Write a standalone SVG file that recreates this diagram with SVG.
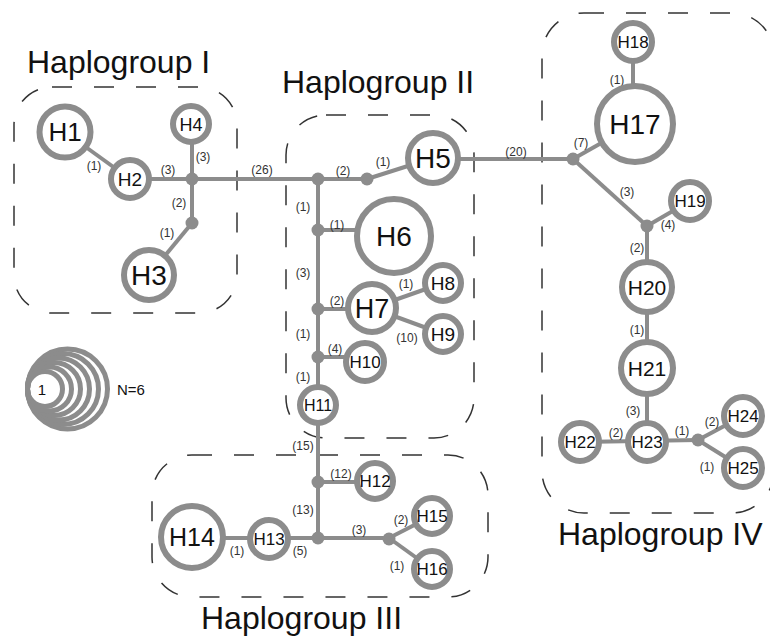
<svg xmlns="http://www.w3.org/2000/svg" width="770" height="640" viewBox="0 0 770 640">
  <style>
    .grp { fill: none; stroke: #333; stroke-width: 1.5; stroke-dasharray: 20 22; }
    .edge { stroke: #8c8c8c; stroke-width: 4; fill: none; }
    .node circle { fill: #fff; stroke: #8c8c8c; stroke-width: 6; }
    .node text { font-family: "Liberation Sans", Arial, sans-serif; fill: #111; text-anchor: middle; }
    .dot { fill: #8c8c8c; }
    .lbl { font-family: "Liberation Sans", Arial, sans-serif; font-size: 12px; fill: #333; text-anchor: middle; }
    .title { font-family: "Liberation Sans", Arial, sans-serif; font-size: 32px; fill: #111; }
    .legend circle { fill: none; stroke: #8c8c8c; stroke-width: 5; }
  </style>
  <rect width="770" height="640" fill="#fff"/>

  <!-- haplogroup outlines -->
  <g id="groups">
    <rect class="grp" x="14" y="87" width="223" height="226" rx="38"/>
    <rect class="grp" x="286" y="115" width="188" height="323" rx="40"/>
    <rect class="grp" x="152" y="455" width="336" height="142" rx="40"/>
    <rect class="grp" x="542" y="13" width="232" height="500" rx="42"/>
    <text class="title" x="27" y="73">Haplogroup I</text>
    <text class="title" x="282" y="93">Haplogroup II</text>
    <text class="title" x="201" y="629">Haplogroup III</text>
    <text class="title" x="558" y="545">Haplogroup IV</text>
  </g>

  <!-- connectors -->
  <g id="connectors">
    <line class="edge" x1="65" y1="132" x2="130" y2="179"/>
    <line class="edge" x1="130" y1="179" x2="192" y2="179"/>
    <line class="edge" x1="192" y1="124" x2="192" y2="223"/>
    <line class="edge" x1="192" y1="223" x2="149" y2="275"/>
    <line class="edge" x1="192" y1="179" x2="367" y2="179"/>
    <line class="edge" x1="367" y1="179" x2="433" y2="158"/>
    <line class="edge" x1="318" y1="179" x2="318" y2="538"/>
    <line class="edge" x1="318" y1="230" x2="360" y2="230"/>
    <line class="edge" x1="318" y1="309" x2="372" y2="309"/>
    <line class="edge" x1="372" y1="308" x2="443" y2="283"/>
    <line class="edge" x1="372" y1="308" x2="443" y2="334"/>
    <line class="edge" x1="318" y1="357" x2="365" y2="357"/>
    <line class="edge" x1="318" y1="482" x2="375" y2="482"/>
    <line class="edge" x1="192" y1="538" x2="389" y2="538"/>
    <line class="edge" x1="389" y1="538" x2="432" y2="516"/>
    <line class="edge" x1="389" y1="538" x2="432" y2="569"/>
    <line class="edge" x1="433" y1="159" x2="573" y2="159"/>
    <line class="edge" x1="573" y1="159" x2="635" y2="124"/>
    <line class="edge" x1="633" y1="42" x2="633" y2="90"/>
    <line class="edge" x1="573" y1="159" x2="647" y2="226"/>
    <line class="edge" x1="647" y1="226" x2="690" y2="201"/>
    <line class="edge" x1="647" y1="226" x2="647" y2="442"/>
    <line class="edge" x1="580" y1="442" x2="698" y2="440"/>
    <line class="edge" x1="698" y1="440" x2="743" y2="416"/>
    <line class="edge" x1="698" y1="440" x2="743" y2="468"/>

    <circle class="dot" cx="192" cy="179" r="6.5"/>
    <circle class="dot" cx="192" cy="223" r="6.5"/>
    <circle class="dot" cx="318" cy="179" r="6.5"/>
    <circle class="dot" cx="367" cy="179" r="6.5"/>
    <circle class="dot" cx="318" cy="230" r="6.5"/>
    <circle class="dot" cx="318" cy="309" r="6.5"/>
    <circle class="dot" cx="318" cy="357" r="6.5"/>
    <circle class="dot" cx="318" cy="482" r="6.5"/>
    <circle class="dot" cx="318" cy="538" r="6.5"/>
    <circle class="dot" cx="389" cy="539" r="6.5"/>
    <circle class="dot" cx="573" cy="159" r="6.5"/>
    <circle class="dot" cx="647" cy="226" r="6.5"/>
    <circle class="dot" cx="698" cy="440" r="6.5"/>

    <!-- mutation counts -->
    <text class="lbl" x="94" y="170">(1)</text>
    <text class="lbl" x="168" y="174">(3)</text>
    <text class="lbl" x="203" y="161">(3)</text>
    <text class="lbl" x="179" y="207">(2)</text>
    <text class="lbl" x="167" y="237">(1)</text>
    <text class="lbl" x="262" y="174">(26)</text>
    <text class="lbl" x="343" y="175">(2)</text>
    <text class="lbl" x="383" y="166">(1)</text>
    <text class="lbl" x="303" y="211">(1)</text>
    <text class="lbl" x="337" y="229">(1)</text>
    <text class="lbl" x="303" y="277">(3)</text>
    <text class="lbl" x="337" y="305">(2)</text>
    <text class="lbl" x="406" y="288">(1)</text>
    <text class="lbl" x="407" y="342">(10)</text>
    <text class="lbl" x="303" y="338">(1)</text>
    <text class="lbl" x="335" y="353">(4)</text>
    <text class="lbl" x="303" y="381">(1)</text>
    <text class="lbl" x="303" y="450">(15)</text>
    <text class="lbl" x="341" y="478">(12)</text>
    <text class="lbl" x="303" y="514">(13)</text>
    <text class="lbl" x="300" y="555">(5)</text>
    <text class="lbl" x="237" y="555">(1)</text>
    <text class="lbl" x="359" y="534">(3)</text>
    <text class="lbl" x="401" y="524">(2)</text>
    <text class="lbl" x="397" y="570">(1)</text>
    <text class="lbl" x="516" y="156">(20)</text>
    <text class="lbl" x="581" y="147">(7)</text>
    <text class="lbl" x="617" y="84">(1)</text>
    <text class="lbl" x="627" y="196">(3)</text>
    <text class="lbl" x="668" y="229">(4)</text>
    <text class="lbl" x="637" y="252">(2)</text>
    <text class="lbl" x="637" y="334">(1)</text>
    <text class="lbl" x="633" y="415">(3)</text>
    <text class="lbl" x="616" y="437">(2)</text>
    <text class="lbl" x="682" y="435">(1)</text>
    <text class="lbl" x="712" y="426">(2)</text>
    <text class="lbl" x="707" y="471">(1)</text>
  </g>

  <!-- haplotypes -->
  <g id="H1" class="node"><circle cx="65" cy="132" r="25.5"/><text x="65" y="141" font-size="26">H1</text></g>
  <g id="H2" class="node"><circle cx="130" cy="179" r="19"/><text x="130" y="186" font-size="19">H2</text></g>
  <g id="H3" class="node"><circle cx="149" cy="275" r="25"/><text x="149" y="285" font-size="28">H3</text></g>
  <g id="H4" class="node"><circle cx="191" cy="124" r="18"/><text x="191" y="130.5" font-size="18">H4</text></g>
  <g id="H5" class="node"><circle cx="433" cy="158" r="25"/><text x="433" y="168" font-size="28">H5</text></g>
  <g id="H6" class="node"><circle cx="394" cy="236" r="37"/><text x="394" y="246" font-size="28">H6</text></g>
  <g id="H7" class="node"><circle cx="372" cy="308" r="24"/><text x="372" y="317.5" font-size="27">H7</text></g>
  <g id="H8" class="node"><circle cx="443" cy="283" r="18"/><text x="443" y="290" font-size="19">H8</text></g>
  <g id="H9" class="node"><circle cx="443" cy="334" r="18"/><text x="443" y="341" font-size="19">H9</text></g>
  <g id="H10" class="node"><circle cx="365" cy="362" r="19"/><text x="365" y="368" font-size="17">H10</text></g>
  <g id="H11" class="node"><circle cx="318" cy="405" r="18"/><text x="318" y="411" font-size="16">H11</text></g>
  <g id="H12" class="node"><circle cx="375" cy="481" r="18"/><text x="375" y="487" font-size="17">H12</text></g>
  <g id="H13" class="node"><circle cx="269" cy="539" r="19"/><text x="269" y="545" font-size="17">H13</text></g>
  <g id="H14" class="node"><circle cx="192" cy="537" r="31"/><text x="192" y="546" font-size="25">H14</text></g>
  <g id="H15" class="node"><circle cx="432" cy="516" r="18"/><text x="432" y="522" font-size="17">H15</text></g>
  <g id="H16" class="node"><circle cx="432" cy="569" r="18"/><text x="432" y="575" font-size="17">H16</text></g>
  <g id="H17" class="node"><circle cx="635" cy="124" r="38"/><text x="635" y="134" font-size="28">H17</text></g>
  <g id="H18" class="node"><circle cx="633" cy="42" r="19"/><text x="633" y="48" font-size="17">H18</text></g>
  <g id="H19" class="node"><circle cx="690" cy="201" r="19"/><text x="690" y="207" font-size="17">H19</text></g>
  <g id="H20" class="node"><circle cx="647" cy="287" r="25"/><text x="647" y="294.5" font-size="21">H20</text></g>
  <g id="H21" class="node"><circle cx="647" cy="368" r="26"/><text x="647" y="375.5" font-size="21">H21</text></g>
  <g id="H22" class="node"><circle cx="580" cy="442" r="19"/><text x="580" y="448" font-size="17">H22</text></g>
  <g id="H23" class="node"><circle cx="647" cy="442" r="19"/><text x="647" y="448" font-size="17">H23</text></g>
  <g id="H24" class="node"><circle cx="743" cy="416" r="19"/><text x="743" y="422" font-size="17">H24</text></g>
  <g id="H25" class="node"><circle cx="743" cy="468" r="19"/><text x="743" y="474" font-size="17">H25</text></g>

  <!-- size legend -->
  <g id="legend" class="legend">
    <circle cx="67.5" cy="389" r="40"/>
    <circle cx="63" cy="389" r="35.5"/>
    <circle cx="58.5" cy="389" r="31"/>
    <circle cx="54" cy="389" r="26.5"/>
    <circle cx="49.5" cy="389" r="22"/>
    <circle cx="45" cy="389" r="17.5"/>
    <text x="42" y="395" font-family="Liberation Sans, Arial, sans-serif" font-size="15" fill="#111" text-anchor="middle">1</text>
    <text x="117" y="395" font-family="Liberation Sans, Arial, sans-serif" font-size="15" fill="#111">N=6</text>
  </g>
</svg>
